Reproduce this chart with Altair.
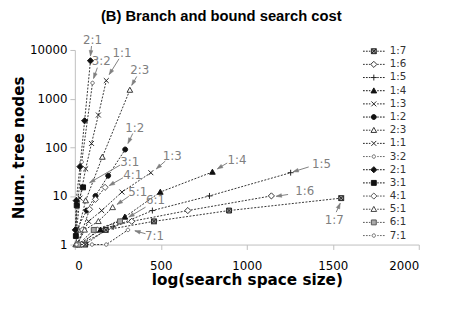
import math
import altair as alt
import pandas as pd

# ---------------- data ----------------
series_order = ["1:7", "1:6", "1:5", "1:4", "1:3", "1:2", "2:3", "1:1",
                "3:2", "2:1", "3:1", "4:1", "5:1", "6:1", "7:1"]

x_1_7 = [60, 180, 460, 897, 1549]
y_1_7 = [1, 2, 3, 5, 9]
x_1_6 = [40, 131, 331, 657, 1143]
y_1_6 = [1, 2, 3, 5, 10]
x_1_5 = [30, 223, 451, 783, 1255]
y_1_5 = [1, 2.3, 5, 10, 30]
x_1_4 = [20, 149, 291, 497, 800]
y_1_4 = [1, 2, 3.7, 12, 31]
x_1_3 = [15, 80, 156, 274, 442]
y_1_3 = [1, 3, 5, 12, 30]
x_1_2 = [10, 69, 120, 194, 293]
y_1_2 = [2, 5, 10, 26, 90]
x_2_3 = [5, 20, 63, 160, 320]
y_2_3 = [1, 2, 8, 63, 1500]
x_1_1 = [10, 30, 63, 97, 137, 183]
y_1_1 = [2, 9, 36, 120, 460, 2350]
x_3_2 = [5, 15, 40, 103]
y_3_2 = [2, 6, 50, 2100]
x_2_1 = [3, 8, 30, 57, 91]
y_2_1 = [2, 8, 40, 350, 6000]
x_3_1 = [6, 11, 48]
y_3_1 = [1.5, 6.4, 15]
x_4_1 = [15, 45, 86, 120, 176]
y_4_1 = [1, 2, 5.3, 8.5, 15]
x_5_1 = [10, 57, 137, 220]
y_5_1 = [1, 2, 3, 5.8]
x_6_1 = [20, 110, 263]
y_6_1 = [1, 2, 3]
x_7_1 = [10, 100, 183, 309]
y_7_1 = [1, 1, 1, 2]

# annotation labels (data coordinates)
label_text = ["2:1", "3:2", "1:1", "2:3", "1:2", "3:1", "4:1", "1:3",
              "1:4", "5:1", "6:1", "7:1", "1:5", "1:6", "1:7"]
label_x = [103, 154, 274, 377, 349, 320, 337, 566, 943, 366, 469, 463, 1434, 1337, 1509]
label_y = [15900, 6000, 8700, 3950, 254, 50, 27, 66, 55, 11.8, 8.1, 1.52, 45, 12.3, 3.2]
# arrow tails and tips (data coordinates)
arrow_x = [97, 131, 257, 360, 337, 263, 280, 526, 886, 314, 411, 411, 1360, 1240, 1520]
arrow_y = [12050, 4330, 6580, 2850, 192, 43, 23.6, 52, 47.5, 9.8, 5.86, 1.67, 39.4, 10.7, 4.64]
tip_x = [91, 109, 200, 331, 309, 86, 200, 474, 829, 246, 314, 349, 1269, 1171, 1543]
tip_y = [7560, 2595, 3125, 1875, 120, 18.7, 16.3, 36, 36, 6.7, 3.68, 1.92, 31.3, 9.8, 7.05]

x_ticks = [0, 500, 1000, 1500, 2000]
y_ticks = [1, 10, 100, 1000, 10000]

series_x = [x_1_7, x_1_6, x_1_5, x_1_4, x_1_3, x_1_2, x_2_3, x_1_1,
            x_3_2, x_2_1, x_3_1, x_4_1, x_5_1, x_6_1, x_7_1]
series_y = [y_1_7, y_1_6, y_1_5, y_1_4, y_1_3, y_1_2, y_2_3, y_1_1,
            y_3_2, y_2_1, y_3_1, y_4_1, y_5_1, y_6_1, y_7_1]

rows = []
for name, xs, ys in zip(series_order, series_x, series_y):
    for xv, yv in zip(xs, ys):
        rows.append({"series": name, "x": xv, "y": yv})
df = pd.DataFrame(rows)

# ---------------- styling ----------------
W, H = 350, 198
XMAX = 2000.0

BOXX = "M-1,-1H1V1H-1Z M-1,-1L1,1 M-1,1L1,-1"
DIAM = "M0,-1.25L1.25,0L0,1.25L-1.25,0Z"
PLUS = "M-1.2,0H1.2M0,-1.2V1.2"
TRI = "M0,-1.15L1.15,0.9H-1.15Z"
XMARK = "M-1,-1L1,1M-1,1L1,-1"
CIRC = "M1,0A1,1,0,1,1,-1,0A1,1,0,1,1,1,0Z"
SCIRC = "M0.7,0A0.7,0.7,0,1,1,-0.7,0A0.7,0.7,0,1,1,0.7,0Z"
SQ = "M-1,-1H1V1H-1Z"

plot_shapes = [BOXX, DIAM, PLUS, TRI, XMARK, CIRC, TRI, XMARK,
               SCIRC, DIAM, SQ, DIAM, TRI, SQ, SCIRC]
fills = ["#9a9a9a", "white", "white", "#111", "white", "#111", "white", "white",
         "white", "#111", "#111", "white", "white", "#aaaaaa", "white"]
strokes = ["#222", "#333", "#222", "#111", "#222", "#111", "#333", "#222",
           "#666", "#111", "#111", "#555", "#444", "#555", "#666"]

DASH = "M-4.4,0H-3.7M-3.2,0H-2.5M-2.0,0H-1.4M1.4,0H2.0M2.5,0H3.2M3.7,0H4.4 "
legend_shapes = [DASH + s for s in plot_shapes]

# arrowhead angles from pixel direction
def px(v):
    return v / XMAX * W

def py(v):
    return H - math.log10(v) / 4.0 * H

ann = pd.DataFrame({
    "label": label_text, "lx": label_x, "ly": label_y,
    "ax": arrow_x, "ay": arrow_y, "tx": tip_x, "ty": tip_y,
})
ann["angle"] = [
    (math.degrees(math.atan2(px(t) - px(a), -(py(u) - py(b))))) % 360
    for a, b, t, u in zip(arrow_x, arrow_y, tip_x, tip_y)
]

xscale = alt.Scale(domain=[0, XMAX], nice=False)
yscale = alt.Scale(type="log", domain=[1, 10000], nice=False)

X = alt.X("x:Q", scale=xscale,
          axis=alt.Axis(values=x_ticks, format="d", title="log(search space size)",
                        labelPadding=11, titlePadding=2, titleFontSize=15.5))
Y = alt.Y("y:Q", scale=yscale,
          axis=alt.Axis(values=y_ticks, format="d", title="Num. tree nodes",
                        labelPadding=3, titlePadding=3, titleFontSize=15.5))

lines = alt.Chart(df).mark_line(stroke="#333", strokeWidth=1, strokeDash=[2, 1.5]).encode(
    x=X, y=Y, detail="series:N", order="x:Q")

points = alt.Chart(df).mark_point(filled=True, size=25, strokeWidth=1, opacity=1).encode(
    x="x:Q", y="y:Q",
    shape=alt.Shape("series:N", scale=alt.Scale(domain=series_order, range=plot_shapes), legend=None),
    fill=alt.Fill("series:N", scale=alt.Scale(domain=series_order, range=fills), legend=None),
    stroke=alt.Stroke("series:N", scale=alt.Scale(domain=series_order, range=strokes), legend=None),
)

leg = alt.Legend(orient="none", legendX=299, legendY=-4, title=None,
                 labelFont="DejaVu Sans", labelFontSize=10.5, labelColor="#333",
                 labelOffset=11, rowPadding=2.4, symbolStrokeWidth=1, symbolSize=25,
                 padding=0)

legend_layer = alt.Chart(pd.DataFrame({"series": series_order})).mark_point(
    filled=True, size=25, strokeWidth=1, opacity=1, clip=True).encode(
    x=alt.value(-300), y=alt.value(-300),
    shape=alt.Shape("series:N", scale=alt.Scale(domain=series_order, range=legend_shapes), legend=leg),
    fill=alt.Fill("series:N", scale=alt.Scale(domain=series_order, range=fills), legend=leg),
    stroke=alt.Stroke("series:N", scale=alt.Scale(domain=series_order, range=strokes), legend=leg),
)

arrows = alt.Chart(ann).mark_rule(stroke="#7f7f7f", strokeWidth=1).encode(
    x="ax:Q", y="ay:Q", x2="tx:Q", y2="ty:Q")

heads = alt.Chart(ann).mark_point(shape="M0,0L0.75,2.2L-0.75,2.2Z", filled=True,
                                  fill="#7f7f7f", stroke="#7f7f7f", strokeWidth=0.5,
                                  size=25, opacity=1).encode(
    x="tx:Q", y="ty:Q", angle=alt.Angle("angle:Q", scale=None))

texts = alt.Chart(ann).mark_text(font="DejaVu Sans", fontSize=12, color="#7f7f7f",
                                 align="center", baseline="middle").encode(
    x="lx:Q", y="ly:Q", text="label:N")

chart = alt.layer(lines, points, legend_layer, arrows, heads, texts).resolve_scale(
    shape="independent", fill="independent", stroke="independent"
).properties(
    width=W, height=H,
    padding={"left": 68, "top": 40, "right": 45, "bottom": 71},
    autosize=alt.AutoSizeParams(type="none"),
    title=alt.Title("(B) Branch and bound search cost", font="Liberation Sans",
                    fontSize=15, fontWeight="bold", color="#000", anchor="middle",
                    dx=-26, dy=10, offset=6, baseline="bottom"),
).configure_view(stroke=None).configure_axis(
    domainColor="#bfbfbf", tickColor="#bfbfbf", tickSize=5, grid=False,
    labelFont="DejaVu Sans", labelFontSize=12, labelColor="#000",
    titleFont="DejaVu Sans", titleFontWeight="bold", titleColor="#000",
)

chart.save("out.html", embed_options={"renderer": "svg", "actions": False})
